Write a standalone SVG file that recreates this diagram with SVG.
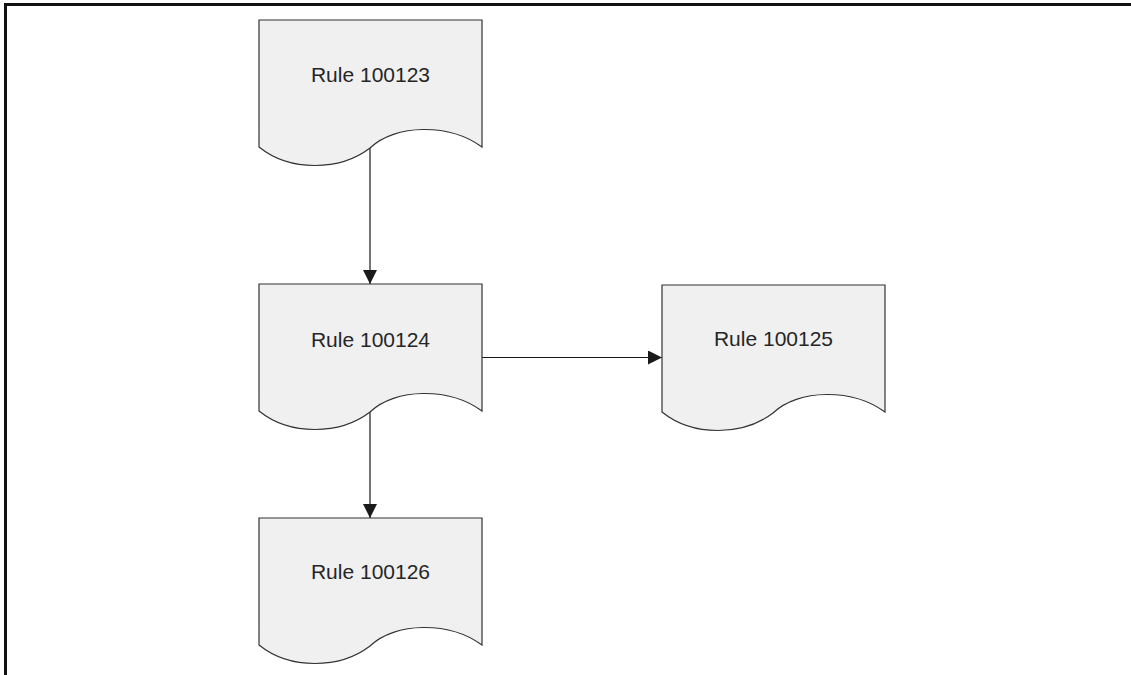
<svg xmlns="http://www.w3.org/2000/svg" width="1131" height="675" viewBox="0 0 1131 675">
  <style>
    .doc { fill: #f0f0f0; stroke: #333333; stroke-width: 1.2; }
    .lbl { font-family: "Liberation Sans", Arial, sans-serif; font-size: 21px; fill: #262626; text-anchor: middle; }
    .edge { stroke: #1a1a1a; stroke-width: 1.2; fill: none; }
    .frame { stroke: #111111; stroke-width: 3; fill: none; }
  </style>
  <defs>
    <path id="docShape" d="M0,0 H223 V127 C190,103 136,104 111,128 C81,151 31,152 0,127 Z"/>
    <marker id="arrow" markerUnits="userSpaceOnUse" markerWidth="14" markerHeight="14" viewBox="0 0 14 14" refX="14" refY="7" orient="auto">
      <path d="M0,0 L14,7 L0,14 Z" fill="#1a1a1a"/>
    </marker>
  </defs>
  <rect x="0" y="0" width="1131" height="675" fill="#ffffff"/>
  <g id="frame">
    <line class="frame" x1="4" y1="4.5" x2="1131" y2="4.5"/>
    <line class="frame" x1="5.5" y1="3" x2="5.5" y2="675"/>
  </g>
  <g id="connectors">
    <line class="edge" x1="370" y1="148" x2="370" y2="284" marker-end="url(#arrow)"/>
    <line class="edge" x1="482" y1="357.5" x2="662" y2="357.5" marker-end="url(#arrow)"/>
    <line class="edge" x1="370" y1="412" x2="370" y2="518" marker-end="url(#arrow)"/>
  </g>
  <g id="node-100123" transform="translate(259,20)">
    <use href="#docShape" class="doc"/>
    <text class="lbl" x="111.5" y="62">Rule 100123</text>
  </g>
  <g id="node-100124" transform="translate(259,284)">
    <use href="#docShape" class="doc"/>
    <text class="lbl" x="111.5" y="63">Rule 100124</text>
  </g>
  <g id="node-100125" transform="translate(662,285)">
    <use href="#docShape" class="doc"/>
    <text class="lbl" x="111.5" y="61">Rule 100125</text>
  </g>
  <g id="node-100126" transform="translate(259,518)">
    <use href="#docShape" class="doc"/>
    <text class="lbl" x="111.5" y="61">Rule 100126</text>
  </g>
</svg>
